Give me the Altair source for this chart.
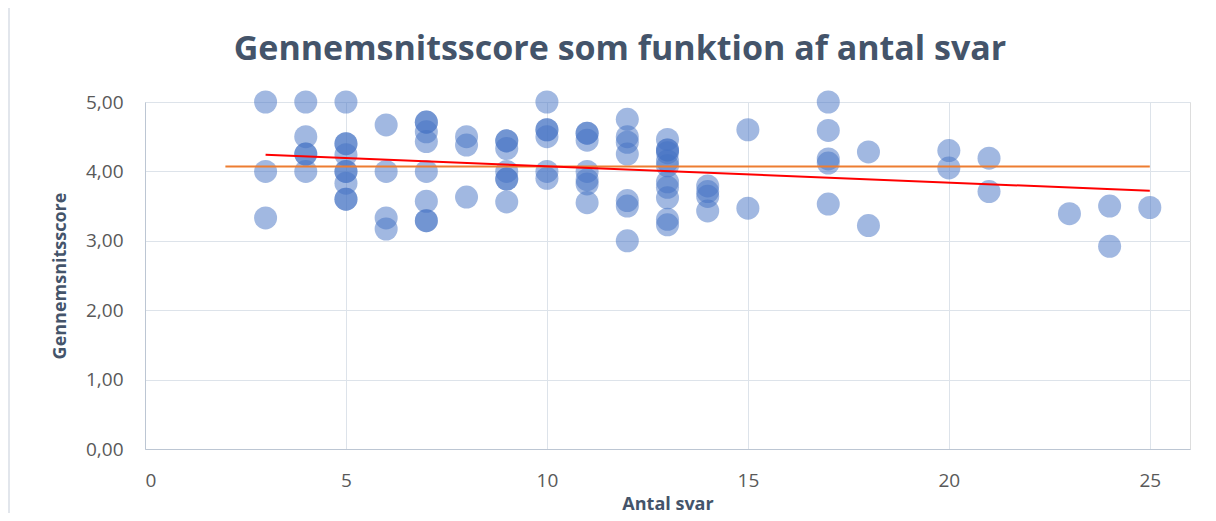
import altair as alt
import pandas as pd

# Scatter data: number of answers (x) and average score (y)
antal = (
    [3, 3, 3]
    + [4, 4, 4, 4, 4]
    + [5, 5, 5, 5, 5, 5, 5, 5, 5]
    + [6, 6, 6, 6]
    + [7, 7, 7, 7, 7, 7, 7, 7]
    + [8, 8, 8]
    + [9, 9, 9, 9, 9, 9, 9]
    + [10, 10, 10, 10, 10, 10]
    + [11, 11, 11, 11, 11, 11, 11]
    + [12, 12, 12, 12, 12, 12, 12]
    + [13, 13, 13, 13, 13, 13, 13, 13, 13, 13, 13]
    + [14, 14, 14, 14]
    + [15, 15]
    + [17, 17, 17, 17, 17]
    + [18, 18]
    + [20, 20]
    + [21, 21]
    + [23]
    + [24, 24]
    + [25]
)
score = (
    [5.00, 4.00, 3.33]
    + [5.00, 4.50, 4.25, 4.25, 4.00]
    + [5.00, 4.40, 4.40, 4.24, 4.00, 4.00, 3.83, 3.60, 3.60]
    + [4.67, 4.00, 3.33, 3.17]
    + [4.71, 4.71, 4.57, 4.43, 4.00, 3.57, 3.29, 3.29]
    + [4.50, 4.38, 3.63]
    + [4.44, 4.44, 4.33, 4.00, 3.89, 3.89, 3.56]
    + [5.00, 4.60, 4.60, 4.50, 4.00, 3.90]
    + [4.55, 4.55, 4.45, 4.00, 3.88, 3.82, 3.55]
    + [4.75, 4.50, 4.42, 4.25, 3.58, 3.50, 3.00]
    + [4.46, 4.31, 4.31, 4.27, 4.15, 4.08, 3.85, 3.77, 3.62, 3.31, 3.23]
    + [3.79, 3.71, 3.64, 3.43]
    + [4.60, 3.47]
    + [5.00, 4.59, 4.18, 4.12, 3.53]
    + [4.28, 3.22]
    + [4.30, 4.05]
    + [4.19, 3.71]
    + [3.39]
    + [3.50, 2.92]
    + [3.48]
)

# Overall mean line (orange) and linear trend line (red)
mean_x = [2, 25]
mean_y = [4.07, 4.07]
trend_x = [3, 25]
trend_y = [4.24, 3.72]

x_ticks = [0, 5, 10, 15, 20, 25]
y_ticks = [0, 1, 2, 3, 4, 5]

TITLE = "Gennemsnitsscore som funktion af antal svar"
FONT = "Open Sans"
TXT = "#595959"
TITLE_C = "#44546A"

pts = pd.DataFrame({"x": antal, "y": score})
mean_df = pd.DataFrame({"x": mean_x, "y": mean_y})
trend_df = pd.DataFrame({"x": trend_x, "y": trend_y})
one = pd.DataFrame({"t": [TITLE]})

xscale = alt.Scale(domain=[0, 26], nice=False, zero=True)
yscale = alt.Scale(domain=[0, 5], nice=False)

xaxis = alt.Axis(
    values=x_ticks, title="Antal svar", grid=True, gridColor="#DDE3EA",
    domainColor="#BCC6D3", ticks=False, labelFontSize=19, labelColor=TXT,
    labelPadding=22, titleFontSize=18, titleFontWeight="bold", titleColor=TITLE_C,
    titlePadding=5, labelFont=FONT, titleFont=FONT,
)
yaxis = alt.Axis(
    values=y_ticks, title="Gennemsnitsscore", grid=True, gridColor="#DDE3EA",
    domainColor="#BCC6D3", ticks=False, labelFontSize=19, labelColor=TXT,
    labelPadding=22, titleFontSize=18, titleFontWeight="bold", titleColor=TITLE_C,
    titlePadding=16, labelFont=FONT, titleFont=FONT,
    labelExpr="replace(format(datum.value, '.2f'), '.', ',')",
)

points = alt.Chart(pts).mark_circle(size=530, color="#4472C4", opacity=0.5).encode(
    x=alt.X("x:Q", scale=xscale, axis=xaxis),
    y=alt.Y("y:Q", scale=yscale, axis=yaxis),
)
mean_line = alt.Chart(mean_df).mark_line(color="#ED7D31", strokeWidth=2).encode(
    x=alt.X("x:Q", scale=xscale), y=alt.Y("y:Q", scale=yscale)
)
trend_line = alt.Chart(trend_df).mark_line(color="#FF0000", strokeWidth=2).encode(
    x=alt.X("x:Q", scale=xscale), y=alt.Y("y:Q", scale=yscale)
)
# light chart-area frame as in the reference
frame = alt.Chart(one).mark_rect(
    fill="transparent", stroke="#D9DEE6", strokeWidth=1.5, clip=False
).encode(
    x=alt.value(-136), x2=alt.value(1062), y=alt.value(-100), y2=alt.value(500)
)
# chart title, centred over the whole chart area
title = alt.Chart(one).mark_text(
    font=FONT, fontSize=34, fontWeight="bold", color=TITLE_C,
    align="center", baseline="alphabetic", clip=False,
).encode(text="t:N", x=alt.value(475), y=alt.value(-42))

chart = (
    alt.layer(frame, points, mean_line, trend_line, title)
    .properties(
        width=1045,
        height=347,
        autosize=alt.AutoSizeParams(type="none"),
        padding={"left": 137, "top": 94, "right": 10, "bottom": 64},
    )
    .configure_view(stroke=None)
    .configure(background="white")
)

chart.save("out.html", embed_options={"renderer": "svg", "actions": False})
